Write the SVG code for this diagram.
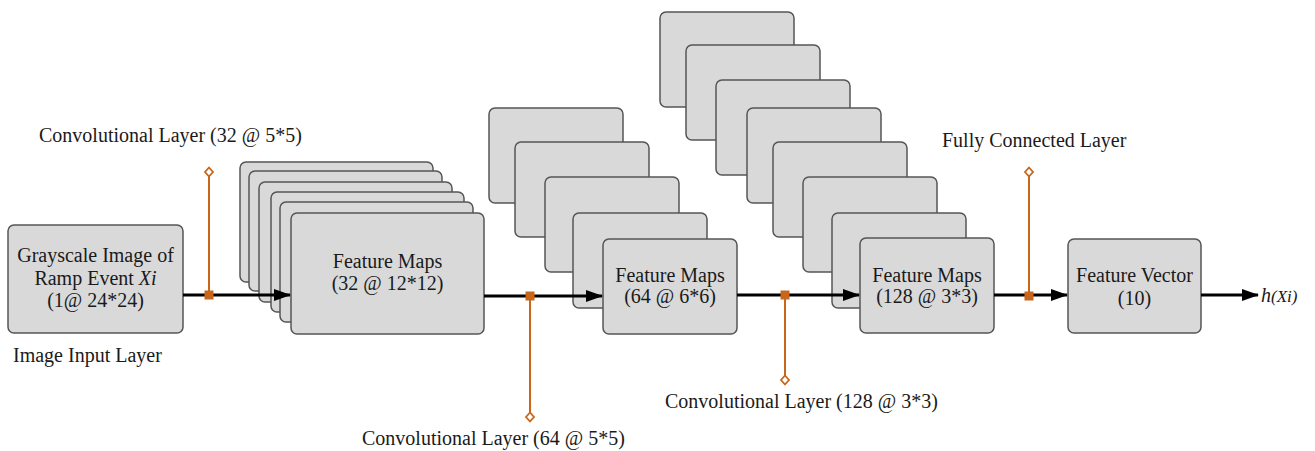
<svg xmlns="http://www.w3.org/2000/svg" width="1315" height="451" viewBox="0 0 1315 451">
  <style>
    text { font-family: "Liberation Serif", "Times New Roman", serif; font-size: 20px; fill: #1a1a1a; }
    .mid { text-anchor: middle; }
    .box { fill: #d9d9d9; stroke: #555555; stroke-width: 1.5; }
    .flow { stroke: #000000; stroke-width: 3; fill: none; }
    .tap { stroke: #c8661b; stroke-width: 2; fill: none; }
    .joint { fill: #c8661b; }
    .end { fill: #ffffff; stroke: #c8661b; stroke-width: 1.8; }
  </style>
  <defs>
    <marker id="arrow" markerUnits="userSpaceOnUse" markerWidth="17" markerHeight="12" refX="16" refY="6" orient="auto">
      <path d="M0,0 L17,6 L0,12 z" fill="#000000"/>
    </marker>
  </defs>

  <rect width="1315" height="451" fill="#ffffff"/>

  <!-- input image -->
  <g id="input">
    <rect class="box" x="8" y="225" width="175" height="108" rx="6"/>
    <text class="mid" x="95.5" y="262">Grayscale Image of</text>
    <text class="mid" x="95.5" y="285">Ramp Event <tspan font-style="italic">Xi</tspan></text>
    <text class="mid" x="95.5" y="307">(1@ 24*24)</text>
  </g>

  <!-- first feature map stack -->
  <g id="maps32">
    <rect class="box" x="240" y="162" width="193" height="120" rx="6"/>
    <rect class="box" x="249" y="171" width="193" height="120" rx="6"/>
    <rect class="box" x="259" y="182" width="193" height="120" rx="6"/>
    <rect class="box" x="271" y="192" width="193" height="120" rx="6"/>
    <rect class="box" x="280" y="202" width="193" height="120" rx="6"/>
    <rect class="box" x="291" y="213" width="193" height="121" rx="6"/>
    <text class="mid" x="387.5" y="268">Feature Maps</text>
    <text class="mid" x="387.5" y="290">(32 @ 12*12)</text>
  </g>

  <!-- second feature map stack -->
  <g id="maps64">
    <rect class="box" x="489" y="108" width="134" height="95" rx="6"/>
    <rect class="box" x="515" y="142" width="134" height="95" rx="6"/>
    <rect class="box" x="545" y="177" width="134" height="95" rx="6"/>
    <rect class="box" x="573" y="213" width="134" height="95" rx="6"/>
    <rect class="box" x="603" y="239" width="134" height="95" rx="6"/>
    <text class="mid" x="670" y="282">Feature Maps</text>
    <text class="mid" x="670" y="303">(64 @ 6*6)</text>
  </g>

  <!-- third feature map stack -->
  <g id="maps128">
    <rect class="box" x="660" y="12" width="134" height="95" rx="6"/>
    <rect class="box" x="686" y="45" width="134" height="95" rx="6"/>
    <rect class="box" x="716" y="80" width="134" height="95" rx="6"/>
    <rect class="box" x="747" y="108" width="134" height="95" rx="6"/>
    <rect class="box" x="773" y="142" width="134" height="95" rx="6"/>
    <rect class="box" x="803" y="177" width="134" height="95" rx="6"/>
    <rect class="box" x="832" y="213" width="134" height="95" rx="6"/>
    <rect class="box" x="860" y="238" width="134" height="95" rx="6"/>
    <text class="mid" x="927" y="282">Feature Maps</text>
    <text class="mid" x="927" y="303">(128 @ 3*3)</text>
  </g>

  <!-- feature vector -->
  <g id="vector">
    <rect class="box" x="1068" y="239" width="133" height="94" rx="6"/>
    <text class="mid" x="1134.5" y="282">Feature Vector</text>
    <text class="mid" x="1134.5" y="305">(10)</text>
  </g>

  <!-- output -->
  <g id="output">
    <text x="1261" y="302" font-style="italic" font-size="25">h<tspan font-size="17">(Xi)</tspan></text>
  </g>

  <!-- layer labels -->
  <g id="labels">
    <text x="39" y="142">Convolutional Layer (32 @ 5*5)</text>
    <text x="13" y="362">Image Input Layer</text>
    <text x="362" y="445">Convolutional Layer (64 @ 5*5)</text>
    <text x="665" y="408">Convolutional Layer (128 @ 3*3)</text>
    <text x="942" y="147">Fully Connected Layer</text>
  </g>

  <!-- connectors -->
  <g id="connectors">
    <line class="flow" x1="183" y1="295" x2="290" y2="295" marker-end="url(#arrow)"/>
    <line class="flow" x1="484" y1="296" x2="602" y2="296" marker-end="url(#arrow)"/>
    <line class="flow" x1="737" y1="295" x2="859" y2="295" marker-end="url(#arrow)"/>
    <line class="flow" x1="994" y1="295" x2="1067" y2="295" marker-end="url(#arrow)"/>
    <line class="flow" x1="1201" y1="295" x2="1258" y2="295" marker-end="url(#arrow)"/>

    <line class="tap" x1="209" y1="176" x2="209" y2="295"/>
    <rect class="joint" x="204.5" y="290.5" width="9" height="9"/>
    <path class="end" d="M209,167.5 L213,172 L209,176.5 L205,172 z"/>

    <line class="tap" x1="530" y1="296" x2="530" y2="413"/>
    <rect class="joint" x="525.5" y="291.5" width="9" height="9"/>
    <path class="end" d="M530,412.5 L534,417 L530,421.5 L526,417 z"/>

    <line class="tap" x1="785" y1="295" x2="785" y2="376"/>
    <rect class="joint" x="780.5" y="290.5" width="9" height="9"/>
    <path class="end" d="M785,375.5 L789,380 L785,384.5 L781,380 z"/>

    <line class="tap" x1="1029" y1="176" x2="1029" y2="296"/>
    <rect class="joint" x="1024.5" y="291.5" width="9" height="9"/>
    <path class="end" d="M1029,167.5 L1033,172 L1029,176.5 L1025,172 z"/>
  </g>
</svg>
